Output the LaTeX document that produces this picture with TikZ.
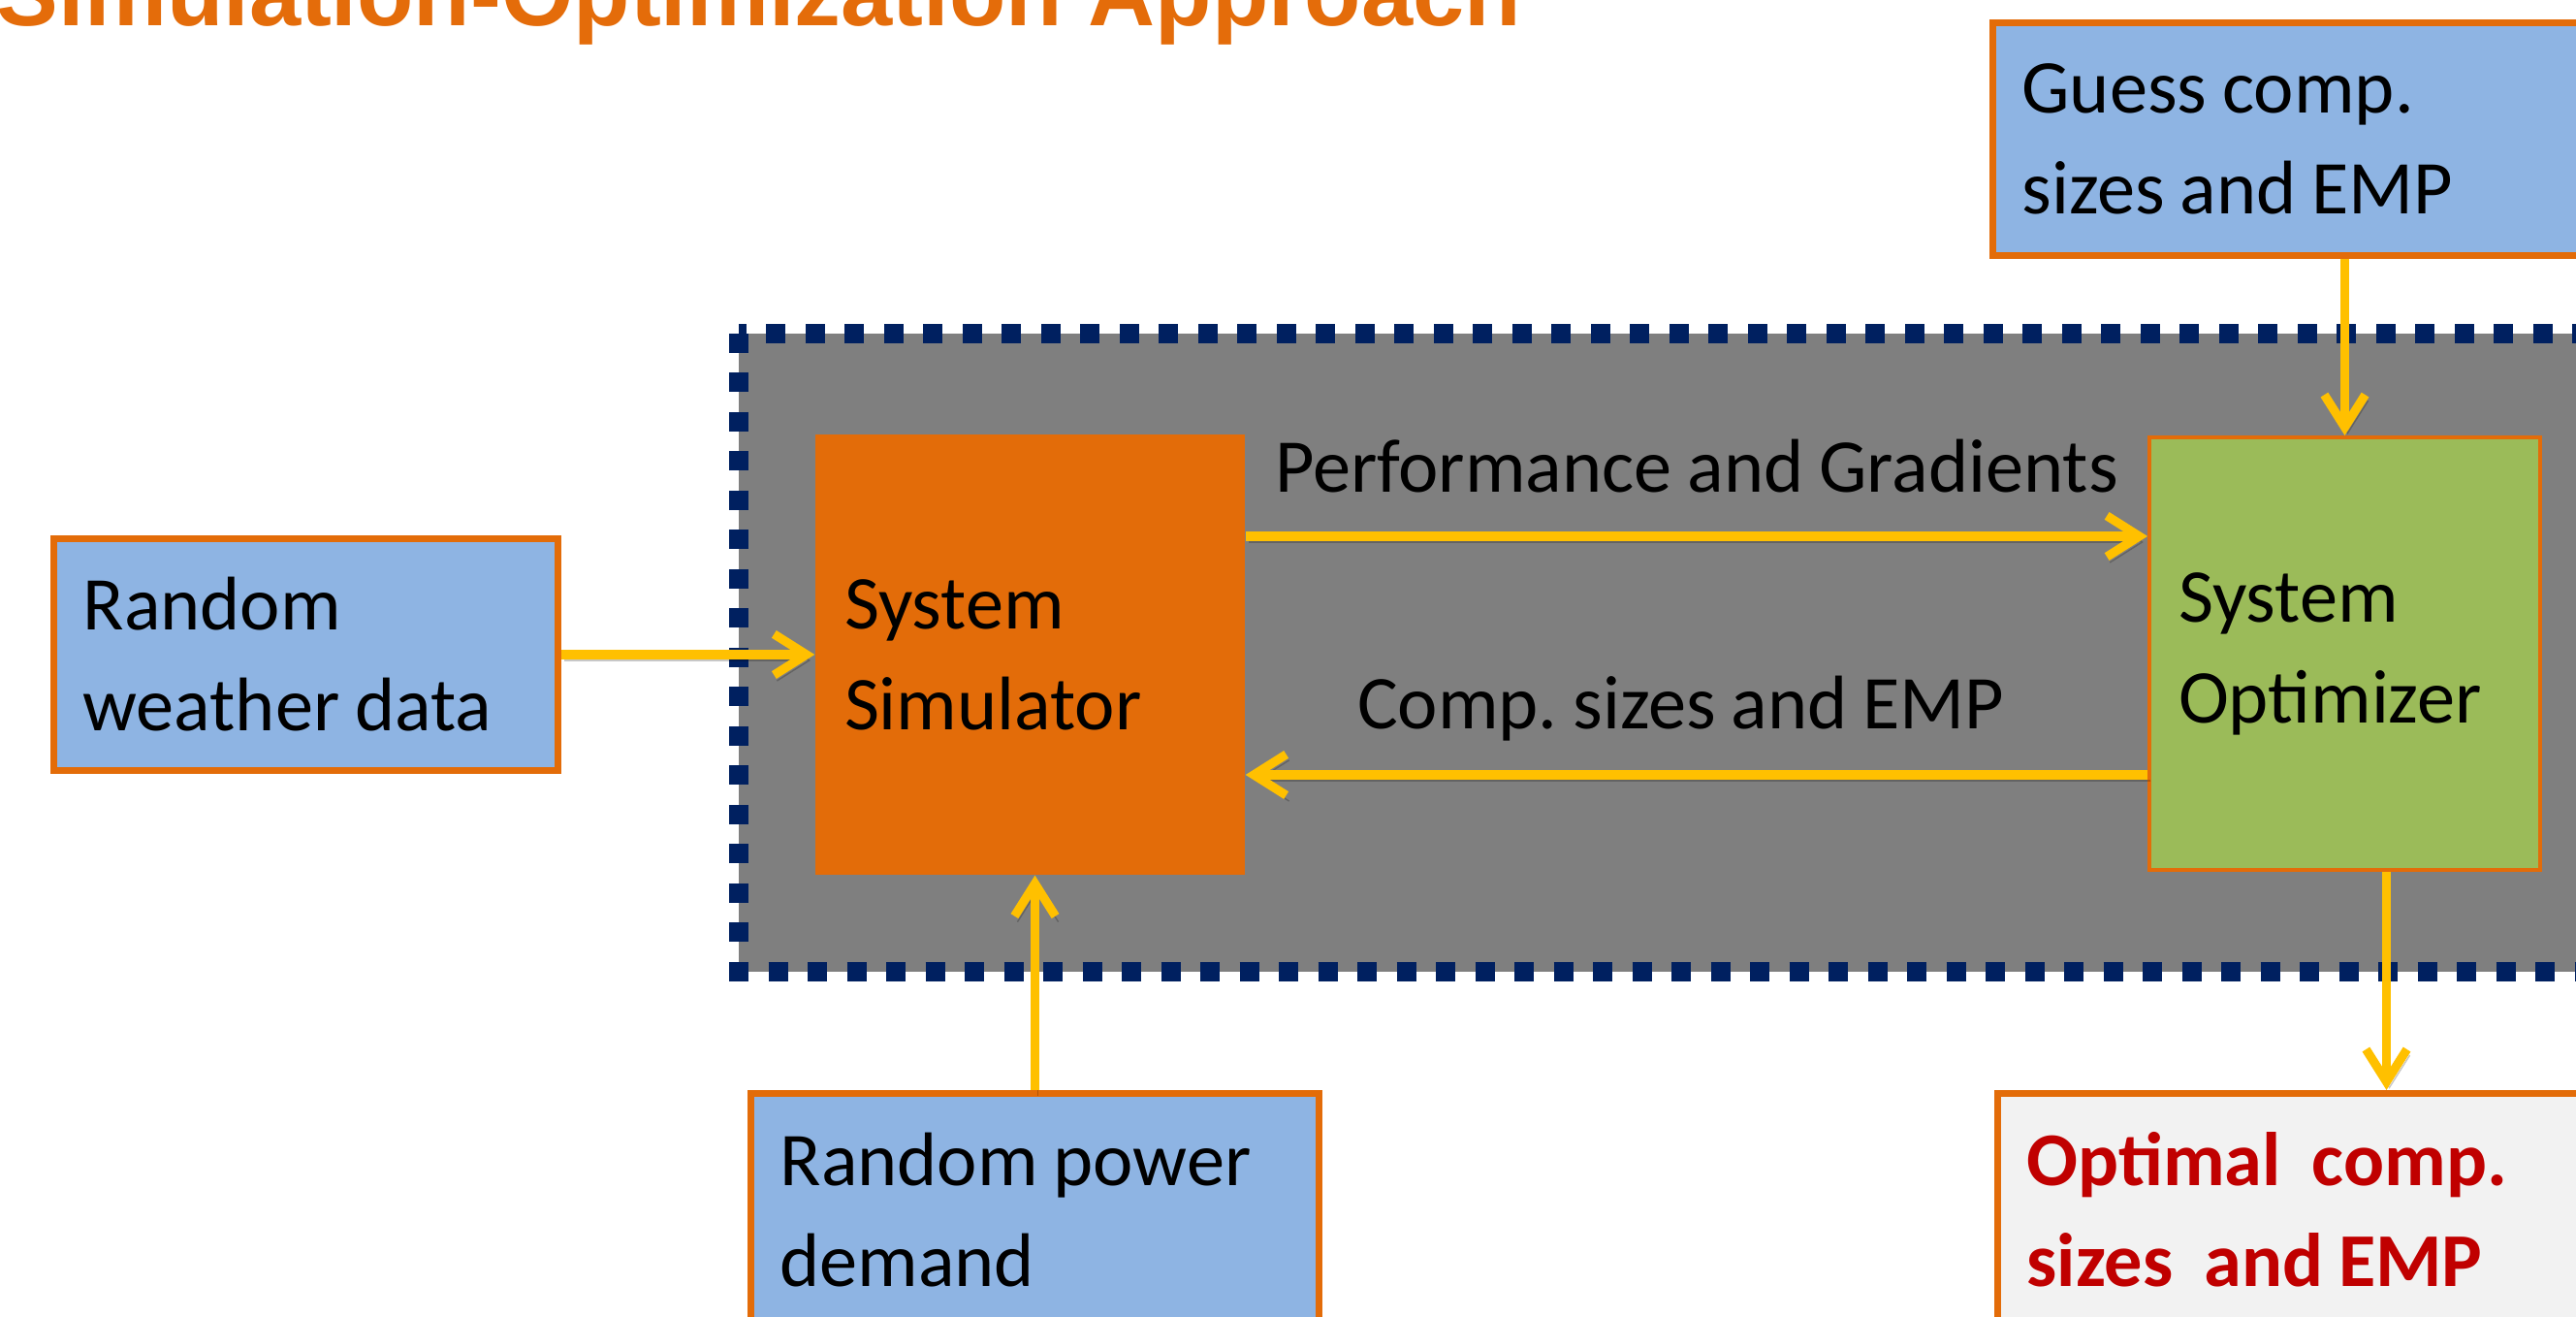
\documentclass[tikz,border=0pt]{standalone}
\usepackage{fontspec}
\setmainfont{Carlito}[WordSpace={0.9,0,0}]
\newfontfamily\headfont{Liberation Sans}
\usepackage{xcolor}
\usetikzlibrary{arrows.meta, positioning, calc}
\definecolor{simorange}{HTML}{E36C09}
\definecolor{inputblue}{HTML}{8EB4E3}
\definecolor{optgreen}{HTML}{9BBB59}
\definecolor{loopgray}{HTML}{7F7F7F}
\definecolor{loopnavy}{HTML}{002060}
\definecolor{flowgold}{HTML}{FFC000}
\definecolor{resultgray}{HTML}{F2F2F2}
\definecolor{resultred}{HTML}{C00000}
\definecolor{headorange}{HTML}{E46C0A}
\frenchspacing

\begin{document}
\begin{tikzpicture}[
  box/.style={rectangle, align=flush left, inner xsep=3mm, inner ysep=0pt, font=\fontsize{22.3}{29.6}\selectfont},
  inbox/.style={box, draw=simorange, line width=2pt, fill=inputblue},
  flow/.style={draw=flowgold, line width=2.6pt, -{Straight Barb[length=9.5pt, width=12pt]},
    preaction={draw=black, opacity=0.22, transform canvas={shift={(0.03,-0.06)}}}},
  tag/.style={font=\fontsize{22.3}{29.6}\selectfont, anchor=base, inner sep=0pt}
]
  \useasboundingbox (0,0) rectangle (26.57,13.58);
  \clip (0,0) rectangle (26.57,13.58);

  % Title
  \node[anchor=base west, inner sep=0pt, text=headorange, font=\headfont\bfseries\fontsize{27.2}{32}\selectfont] (title) at (-0.04,13.31) {Simulation-Optimization Approach};

  % Loop frame
  \draw[loopnavy, fill=loopgray, line width=0.2cm, dash pattern=on 0.2cm off 0.205cm] (7.62,10.14) rectangle (27.2,3.56);

  % Inner blocks
  \node[box, fill=simorange, minimum width=4.43cm, minimum height=4.54cm, text width=3.83cm] (sim) at (10.625,6.83) {System\\Simulator};
  \node[box, draw=simorange, line width=1.1pt, fill=optgreen, minimum width=4.03cm, minimum height=4.46cm, text width=3.43cm] (opt) at (24.185,6.84) {System\\Optimizer};

  % Inputs and result
  \node[inbox, minimum width=5.20cm, minimum height=2.39cm, text width=4.60cm] (weather) at (3.155,6.83) {Random\\weather data};
  \node[inbox, minimum width=6.50cm, minimum height=2.40cm, text width=5.90cm] (guess) at (23.805,12.145) {Guess comp.\\sizes and EMP};
  \node[inbox, minimum width=5.86cm, minimum height=2.40cm, text width=5.26cm, anchor=north] (power) at (10.675,2.34) {Random power\\demand};
  \node[box, draw=simorange, line width=2pt, fill=resultgray, text=resultred, minimum width=6.50cm, minimum height=2.40cm, text width=5.90cm, anchor=north west] (optimal) at (20.57,2.34) {\bfseries Optimal\ \ comp.\\\bfseries sizes\ \ and EMP};

  % Arrows
  \draw[flow] (weather) -- (sim);
  \draw[flow] (power.north) -- (power.north |- sim.south);
  \draw[flow] (opt.north |- guess.south) -- (opt.north);
  \draw[flow] ([xshift=4.3mm]opt.south) -- ([xshift=4.3mm]opt.south |- optimal.north);
  \draw[flow] ([yshift=12.2mm]sim.east) -- ([yshift=12.2mm]sim.east -| opt.west)
    node[tag, midway, yshift=4.5mm] {Performance and Gradients};
  \draw[flow] ([yshift=-12.5mm]opt.west) -- ([yshift=-12.5mm]opt.west -| sim.east)
    node[tag, midway, yshift=4.7mm, xshift=-1.6mm] {Comp. sizes and EMP};
\end{tikzpicture}
\end{document}
